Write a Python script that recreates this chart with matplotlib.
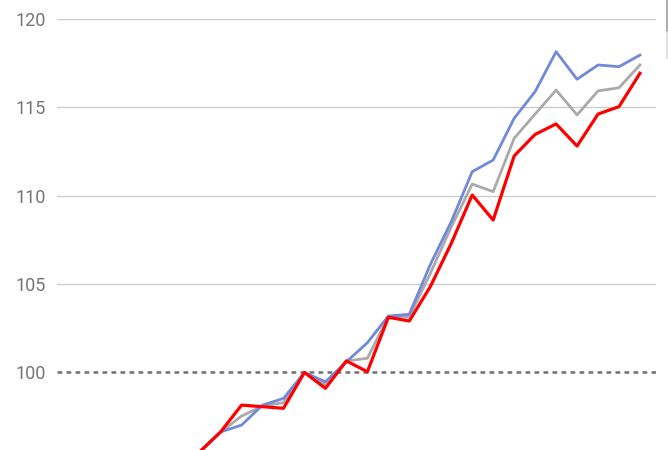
import matplotlib
matplotlib.use("Agg")
import matplotlib.pyplot as plt
from matplotlib.lines import Line2D

# values (index = period)
periods = list(range(22))
blue = [95.5, 96.63, 97.02, 98.15, 98.53, 100.0, 99.47, 100.6, 101.68, 103.19, 103.29,
        106.1, 108.53, 111.36, 112.02, 114.38, 115.89, 118.15, 116.59, 117.4, 117.3, 117.96]
gray = [95.5, 96.63, 97.53, 98.1, 98.29, 100.0, 99.29, 100.65, 100.8, 103.15, 103.15,
        105.6, 108.23, 110.66, 110.23, 113.25, 114.62, 115.98, 114.57, 115.93, 116.11, 117.4]
red = [95.5, 96.63, 98.15, 98.06, 97.97, 100.0, 99.1, 100.65, 100.04, 103.12, 102.91,
       104.85, 107.3, 110.04, 108.62, 112.25, 113.47, 114.06, 112.81, 114.62, 115.04, 116.93]
yticks = [105, 110, 115, 120]
baseline = 100

plt.rcParams["font.family"] = ["Roboto", "DejaVu Sans"]

fig = plt.figure(figsize=(6.68, 4.5), dpi=100)
ax = fig.add_axes([57 / 668, 0, (655.7 - 57) / 668, 431 / 450])

ax.set_xlim(-6.8, 21.75)
ax.set_ylim(95.61, 120)

for v in yticks:
    ax.axhline(v, color="#cccccc", lw=1, zorder=1)
ax.axhline(baseline, color="#707070", lw=1.8, ls=(0, (1.9, 1.7)), zorder=1)

ax.plot(periods, gray, color="#aaaaaa", lw=2.0, zorder=3)
ax.plot(periods, blue, color="#7089d9", lw=2.0, zorder=4)
ax.plot(periods, red, color="#ff0000", lw=2.3, zorder=5)

ax.set_yticks(yticks + [baseline])
ax.set_yticklabels([str(v) for v in yticks + [baseline]])
ax.tick_params(axis="y", length=0, pad=8, labelsize=13, labelcolor="#757575")
ax.set_xticks([])
for s in ax.spines.values():
    s.set_visible(False)

# bit of a panel edge at the right
fig.add_artist(Line2D([667.3 / 668] * 2, [1, 1 - 32 / 450], color="#9e9e9e", lw=1.2))
fig.add_artist(Line2D([667.3 / 668] * 2, [1 - 32 / 450, 1 - 58 / 450], color="#dddddd", lw=1.2))

fig.savefig("out.png", dpi=100)
